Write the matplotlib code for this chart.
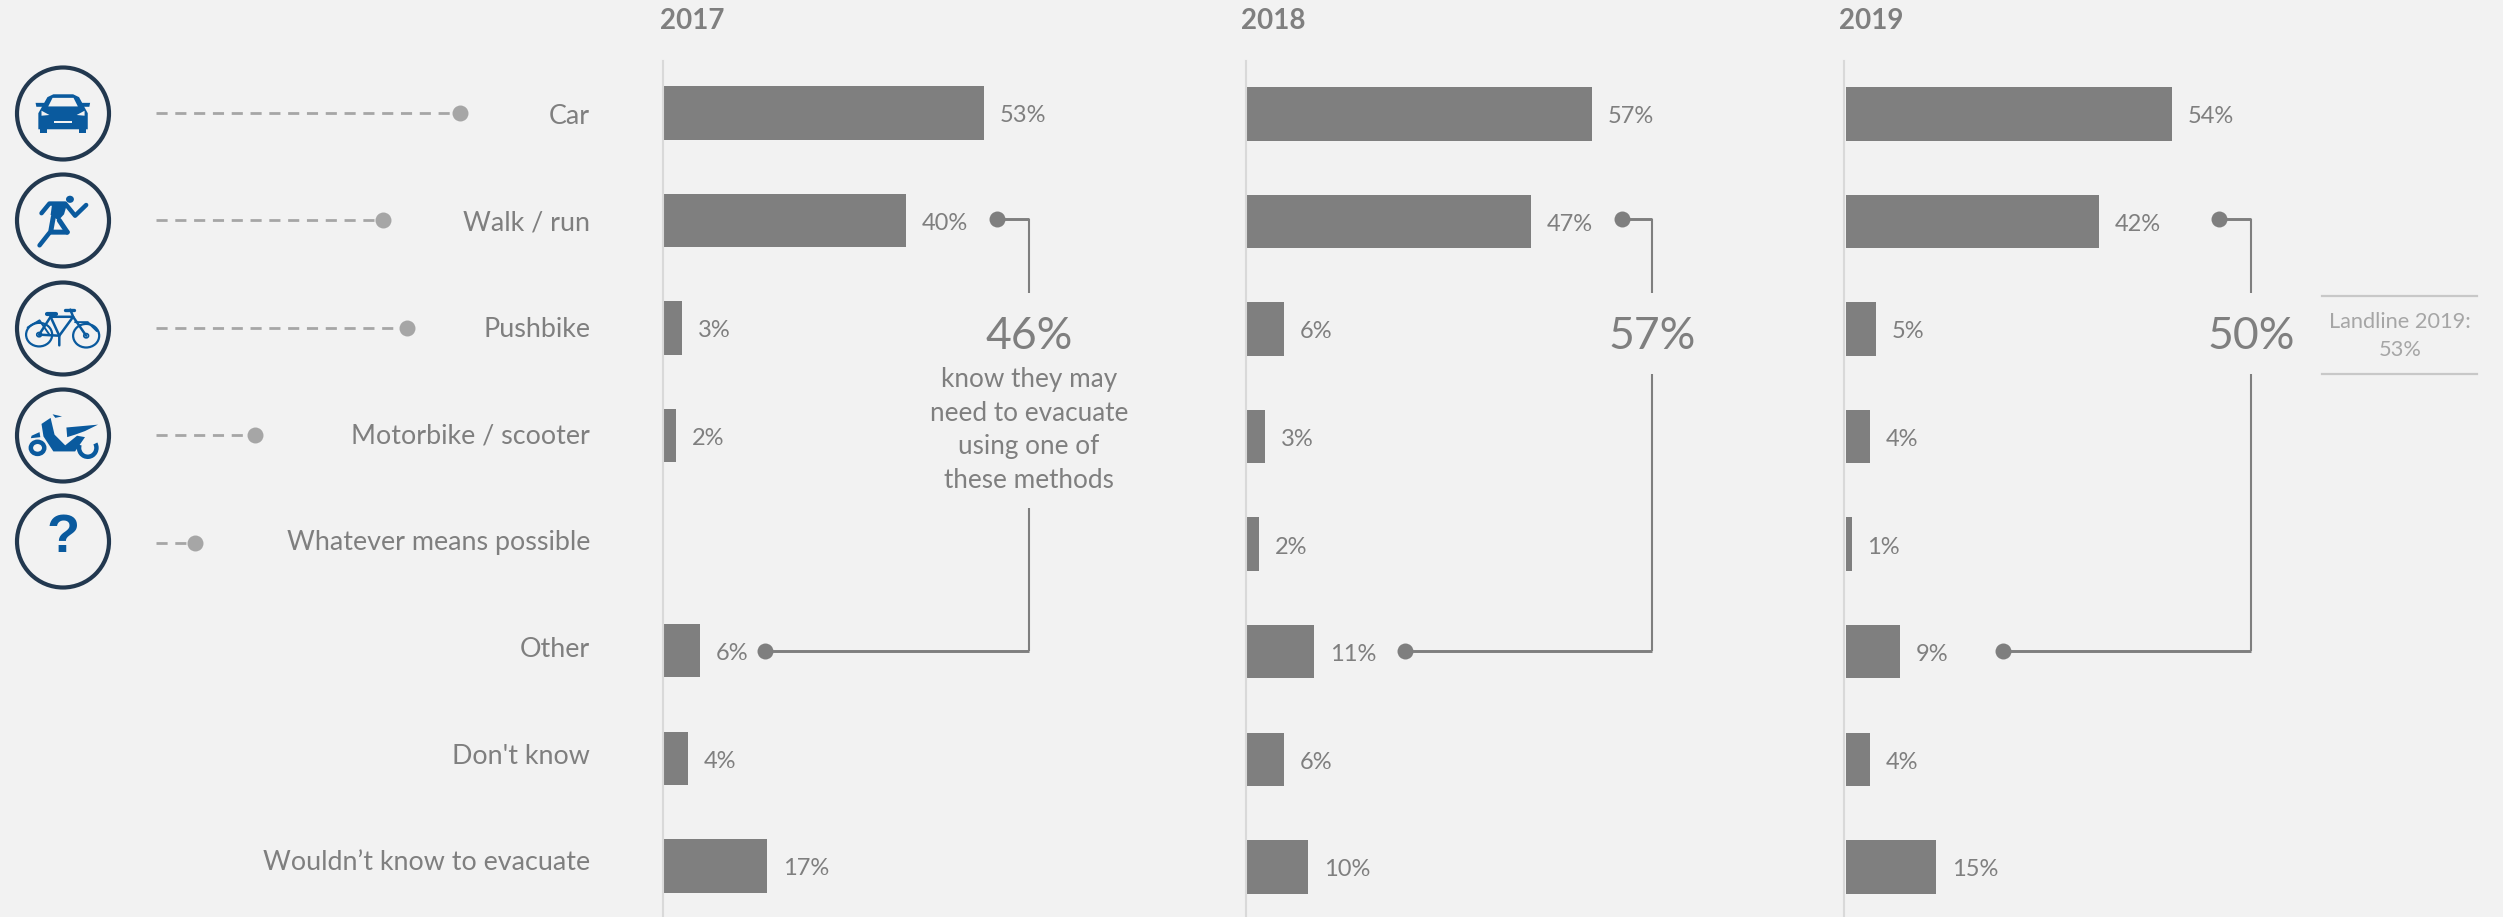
import matplotlib
matplotlib.use("Agg")
import matplotlib.pyplot as plt
from matplotlib.patches import Circle, Polygon, Ellipse, Arc

# Survey results: share of respondents per evacuation method
categories = ["Car", "Walk / run", "Pushbike", "Motorbike / scooter",
              "Whatever means possible", "Other", "Don't know",
              "Wouldn\u2019t know to evacuate"]
years = ["2017", "2018", "2019"]
values_2017 = [53, 40, 3, 2, None, 6, 4, 17]
values_2018 = [57, 47, 6, 3, 2, 11, 6, 10]
values_2019 = [54, 42, 5, 4, 1, 9, 4, 15]
totals = ["46%", "57%", "50%"]
callout_note = ["know they may", "need to evacuate", "using one of", "these methods"]
landline_note = ["Landline 2019:", "53%"]
# Length of the dashed lead lines beside the five mode icons
lead_ends = [460, 383, 407, 255, 195]

W, H = 2503, 917
BG = "#f2f2f2"
GREY = "#7f7f7f"
LIGHT = "#a6a6a6"
AXIS = "#d9d9d9"
NAVY = "#22384f"
BLUE = "#0a5a9e"
FONT = "Lato"

plt.rcParams["font.family"] = [FONT, "DejaVu Sans"]
fig = plt.figure(figsize=(W / 100, H / 100), dpi=100, facecolor=BG)

# Overlay in pixel units for labels, icons and callouts
ov = fig.add_axes([0, 0, 1, 1], zorder=3)
ov.set_xlim(0, W)
ov.set_ylim(H, 0)
ov.axis("off")

ROW0, ROW_STEP = 113.0, 107.55
PX_PER_PCT = 6.04
AXIS_TOP = 61
panel_left = [664.0, 1247.3, 1845.5]
panel_shift = [0, 1, 1]
title_x = [660, 1241, 1839]
panel_values = [values_2017, values_2018, values_2019]


def row_y(i):
    return ROW0 + ROW_STEP * i


# One bar panel per year, scaled in percent
for year, left, shift, tx, vals in zip(years, panel_left, panel_shift, title_x, panel_values):
    width_px = 100 * PX_PER_PCT
    ax = fig.add_axes([left / W, 0, width_px / W, (H - AXIS_TOP) / H], zorder=2)
    ax.patch.set_alpha(0)
    ax.set_xlim(0, 100)
    ax.set_ylim((H - ROW0 - shift) / ROW_STEP, (AXIS_TOP - ROW0 - shift) / ROW_STEP)
    for s in ("top", "right", "bottom"):
        ax.spines[s].set_visible(False)
    ax.spines["left"].set_color(AXIS)
    ax.spines["left"].set_linewidth(1.5)
    ax.spines["left"].set_position(("outward", 1))
    ax.set_xticks([])
    ax.set_yticks([])
    for i, v in enumerate(vals):
        if v is None:
            continue
        ax.barh(i, v, height=0.497, color=GREY, linewidth=0)
        ax.annotate(f"{v}%", (v, i), xytext=(11.5, -6.7), textcoords="offset points",
                    va="baseline", ha="left", color=GREY, fontsize=17)
    ov.text(tx, 29, year, color=GREY, fontsize=20, fontweight="bold",
            ha="left", va="baseline")

# Category labels and dashed lead lines
for i, c in enumerate(categories):
    ov.text(590, 124 + 106.6 * i, c, color=GREY, fontsize=19.4, ha="right", va="baseline")
for i, end in enumerate(lead_ends):
    y = row_y(i) - 0.5
    ov.plot([156, end], [y, y], color=LIGHT, lw=2, dashes=(4, 2.77), zorder=2)
    ov.plot(end, y, "o", color=LIGHT, ms=11.5, mew=0, zorder=3)

# Bracketed callouts joining the walk/run and other rows
callouts = [(997, 1029, 765, 508), (1622, 1652, 1405, 374), (2219, 2251, 2003, 374)]
for (top_dot, x, low_dot, resume), total in zip(callouts, totals):
    ov.plot([top_dot, x], [219, 219], color=GREY, lw=2.1, solid_capstyle="butt")
    ov.plot([x, low_dot], [650.7, 650.7], color=GREY, lw=2.1, solid_capstyle="butt")
    ov.plot([x, x], [219, 293], color=GREY, lw=1.5, solid_capstyle="butt")
    ov.plot([x, x], [resume, 651], color=GREY, lw=1.5, solid_capstyle="butt")
    ov.plot([top_dot, low_dot], [219, 650.7], "o", color=GREY, ms=11.5, mew=0)
    ov.text(x, 349, total, color=GREY, fontsize=32, ha="center", va="baseline")
for k, line in enumerate(callout_note):
    ov.text(1029, 387 + 33.7 * k, line, color=GREY, fontsize=18.8, ha="center", va="baseline")

# Landline comparison box
for y in (296, 374):
    ov.plot([2322, 2477], [y, y], color="#c8c8c8", lw=1.6)
for k, line in enumerate(landline_note):
    ov.text(2400, 328 + 27.5 * k, line, color=LIGHT, fontsize=15.7, ha="center", va="baseline")


# Icons, sketched on a small local grid
SX, SY = 2.53, 2.8


def z(x, y):
    return (x / SX, y / SY + 40)


def poly(pts, color=BLUE, **kw):
    ov.add_patch(Polygon([z(*p) for p in pts], closed=True, fc=color, ec="none", **kw))


def stroke(pts, lw=4, color=BLUE, cap="round"):
    xs, ys = zip(*[z(*p) for p in pts])
    ov.plot(xs, ys, color=color, lw=lw, solid_capstyle=cap, solid_joinstyle="round")


def ring(x, y, r, lw=1.6, fc="none", ec=BLUE):
    ov.add_patch(Ellipse(z(x, y), 2 * r / SX, 2 * r / SY, fc=fc, ec=ec, lw=lw))


for cy in (113, 220, 328, 435, 541):
    ov.add_patch(Circle((63, cy + 0.5), 46.0, fc="none", ec=NAVY, lw=3))

# Car
poly([(97, 250), (97, 205), (120, 160), (135, 152), (185, 152), (200, 160),
      (222, 205), (222, 250)])
poly([(90, 176), (115, 176), (112, 187), (92, 187)])
poly([(205, 176), (228, 176), (226, 187), (206, 187)])
poly([(100, 250), (118, 250), (118, 260), (100, 260)])
poly([(200, 250), (218, 250), (218, 260), (200, 260)])
poly([(122, 186), (133, 162), (186, 162), (197, 186)], color=BG)
poly([(105, 198), (125, 210), (105, 212)], color=BG)
poly([(214, 198), (194, 210), (214, 212)], color=BG)
poly([(137, 227), (182, 227), (182, 233), (137, 233)], color=BG)

# Runner
ring(177, 446, 10, lw=0, fc=BLUE, ec=BLUE)
stroke([(105, 485), (125, 458), (165, 458), (190, 492), (218, 462)], lw=3.2)
poly([(132, 458), (170, 458), (162, 488), (148, 505), (128, 490)])
stroke([(135, 495), (128, 538), (170, 538)], lw=3.6)
stroke([(150, 505), (170, 538)], lw=3.6)
stroke([(125, 540), (100, 575)], lw=3.2)

# Pushbike
ring(99, 825, 33)
ring(218, 828, 33)
ring(99, 825, 6, lw=1.2)
ring(218, 828, 6, lw=1.2)
stroke([(99, 825), (128, 775), (185, 775), (218, 828)], lw=1.8)
stroke([(99, 825), (150, 828), (185, 775)], lw=1.8)
stroke([(128, 775), (150, 828), (150, 855)], lw=1.8)
stroke([(185, 775), (178, 755)], lw=1.8)
stroke([(165, 755), (188, 755)], lw=2.4)
stroke([(118, 767), (142, 767)], lw=3)
stroke([(70, 805), (100, 785), (125, 825)], lw=1.4)
stroke([(190, 790), (222, 790), (245, 815)], lw=1.4)

# Scooter
ring(95, 1142, 17, lw=3.2)
ov.add_patch(Arc(z(222, 1142), 44 / SX, 50 / SY, theta1=-30, theta2=200, ec=BLUE, lw=3.2))
poly([(105, 1075), (128, 1058), (138, 1105), (165, 1135), (195, 1108), (215, 1112),
      (190, 1152), (135, 1152), (110, 1110)])
poly([(168, 1085), (248, 1077), (215, 1095), (190, 1105), (170, 1112)])
poly([(80, 1108), (100, 1098), (102, 1112), (78, 1115)])
poly([(133, 1048), (157, 1054), (140, 1058)])

# Unknown means
cx, cy = z(160, 1395)
ov.text(cx, cy, "?", color=BLUE, fontsize=39, fontweight="bold", family="Liberation Sans",
        ha="center", va="center")

fig.savefig("out.png", dpi=100, facecolor=BG)
